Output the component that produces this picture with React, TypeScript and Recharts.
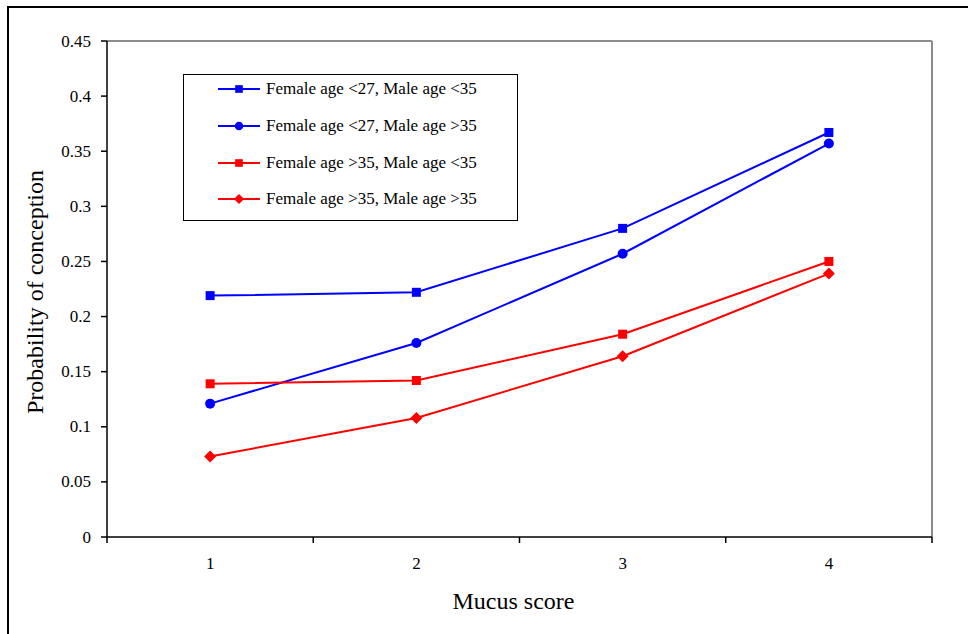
import React from "react";
import { LineChart, Line, XAxis, YAxis, ReferenceLine } from "recharts";

const SCORES = [1, 2, 3, 4];
const F27_M35_LOW = [0.219, 0.222, 0.28, 0.367];
const F27_M35_HIGH = [0.121, 0.176, 0.257, 0.357];
const F35_M35_LOW = [0.139, 0.142, 0.184, 0.25];
const F35_M35_HIGH = [0.073, 0.108, 0.164, 0.239];
const Y_TICKS = [0, 0.05, 0.1, 0.15, 0.2, 0.25, 0.3, 0.35, 0.4, 0.45];

const SERIES = [
  { key: "a", name: "Female age <27, Male age <35", color: "#0000ff", shape: "square", values: F27_M35_LOW },
  { key: "b", name: "Female age <27, Male age >35", color: "#0000ff", shape: "circle", values: F27_M35_HIGH },
  { key: "c", name: "Female age >35, Male age <35", color: "#ff0000", shape: "square", values: F35_M35_LOW },
  { key: "d", name: "Female age >35, Male age >35", color: "#ff0000", shape: "diamond", values: F35_M35_HIGH },
];

const data = SCORES.map((s, i) => {
  const row: any = { score: s };
  SERIES.forEach((se) => (row[se.key] = se.values[i]));
  return row;
});

// boundaries between the score bands, where the tick marks sit
const X_TICKS = [...SCORES.map((s) => s - 0.5), SCORES[SCORES.length - 1] + 0.5, ...SCORES];

const FONT = "'Liberation Serif', 'Times New Roman', serif";
const W = 968;
const H = 634;
const TICK = 6;
const txt = (size: number) => ({ fontFamily: FONT, fontSize: size, fill: "#000" });

function Marker({ shape, cx, cy, color, s = 1 }: any) {
  if (shape === "circle") return <circle cx={cx} cy={cy} r={5 * s} fill={color} />;
  if (shape === "diamond") {
    const d = 6 * s;
    return <polygon points={`${cx},${cy - d} ${cx + d},${cy} ${cx},${cy + d} ${cx - d},${cy}`} fill={color} />;
  }
  const h = 4.5 * s;
  return <rect x={cx - h} y={cy - h} width={h * 2} height={h * 2} fill={color} />;
}

function XTick({ x, y, payload }: any) {
  const v = payload.value;
  if (Number.isInteger(v)) {
    return (
      <text x={x} y={y + 20} textAnchor="middle" dominantBaseline="central" style={txt(17)}>
        {v}
      </text>
    );
  }
  return <line x1={x} x2={x} y1={y - TICK} y2={y} stroke="#000" strokeWidth={1.5} />;
}

function YTick({ x, y, payload }: any) {
  return (
    <text x={x} y={y} textAnchor="end" dominantBaseline="central" style={txt(17)}>
      {String(payload.value)}
    </text>
  );
}

function LegendBox() {
  return (
    <div
      style={{
        position: "absolute",
        left: 183,
        top: 74,
        width: 335,
        height: 147,
        border: "1.5px solid #000",
        background: "#fff",
        fontFamily: FONT,
        fontSize: 17,
        boxSizing: "border-box",
      }}
    >
      <div style={{ marginTop: -4 }}>
        {SERIES.map((se) => (
          <div key={se.key} style={{ display: "flex", alignItems: "center", height: 36.7 }}>
            <svg width={80} height={20} style={{ flex: "none" }}>
              <line x1={34} x2={76} y1={10} y2={10} stroke={se.color} strokeWidth={2} />
              <Marker shape={se.shape} cx={55} cy={10} color={se.color} s={0.85} />
            </svg>
            <span style={{ marginLeft: 2, whiteSpace: "nowrap" }}>{se.name}</span>
          </div>
        ))}
      </div>
    </div>
  );
}

export default function App() {
  return (
    <div style={{ position: "relative", width: W, height: H, overflow: "hidden", background: "#fff", fontFamily: FONT }}>
      <style>{"body{margin:0}"}</style>
      <div
        style={{
          position: "absolute",
          left: 7,
          top: 6,
          width: W + 20,
          height: H + 20,
          borderTop: "2px solid #000",
          borderLeft: "2px solid #000",
        }}
      />
      <LineChart
        width={W}
        height={H}
        data={data}
        margin={{ top: 41, right: 36, bottom: 37, left: 0 }}
        style={{ position: "absolute", left: 0, top: 0, fontFamily: FONT }}
      >
        <ReferenceLine y={0.45} stroke="#8c8c8c" strokeWidth={2} ifOverflow="visible" />
        <ReferenceLine x={4.5} stroke="#8c8c8c" strokeWidth={2} ifOverflow="visible" />
        <XAxis
          dataKey="score"
          type="number"
          domain={[0.5, 4.5]}
          ticks={X_TICKS}
          interval={0}
          height={60}
          tickSize={TICK}
          tickMargin={0}
          tickLine={false}
          tick={<XTick />}
          axisLine={{ stroke: "#000", strokeWidth: 1.5 }}
          label={(p: any) => {
            const vb = p.viewBox;
            return (
              <text x={vb.x + vb.width / 2 - 6} y={vb.y + 64} textAnchor="middle" dominantBaseline="central" style={txt(24)}>
                Mucus score
              </text>
            );
          }}
        />
        <YAxis
          type="number"
          domain={[0, 0.45]}
          ticks={Y_TICKS}
          interval={0}
          width={107}
          tickSize={TICK}
          tickMargin={10}
          tick={<YTick />}
          tickLine={{ stroke: "#000", strokeWidth: 1.5 }}
          axisLine={{ stroke: "#000", strokeWidth: 1.5 }}
          label={(p: any) => {
            const vb = p.viewBox;
            const cx = vb.x + 35;
            const cy = vb.y + vb.height / 2 + 3;
            return (
              <text x={cx} y={cy} transform={`rotate(-90 ${cx} ${cy})`} textAnchor="middle" dominantBaseline="central" style={txt(24)}>
                Probability of conception
              </text>
            );
          }}
        />
        {SERIES.map((se) => (
          <Line
            key={se.key}
            dataKey={se.key}
            name={se.name}
            type="linear"
            stroke={se.color}
            strokeWidth={2}
            isAnimationActive={false}
            dot={(p: any) => <Marker key={`${se.key}-${p.index}`} shape={se.shape} cx={p.cx} cy={p.cy} color={se.color} />}
            activeDot={false}
          />
        ))}
      </LineChart>
      <LegendBox />
    </div>
  );
}
